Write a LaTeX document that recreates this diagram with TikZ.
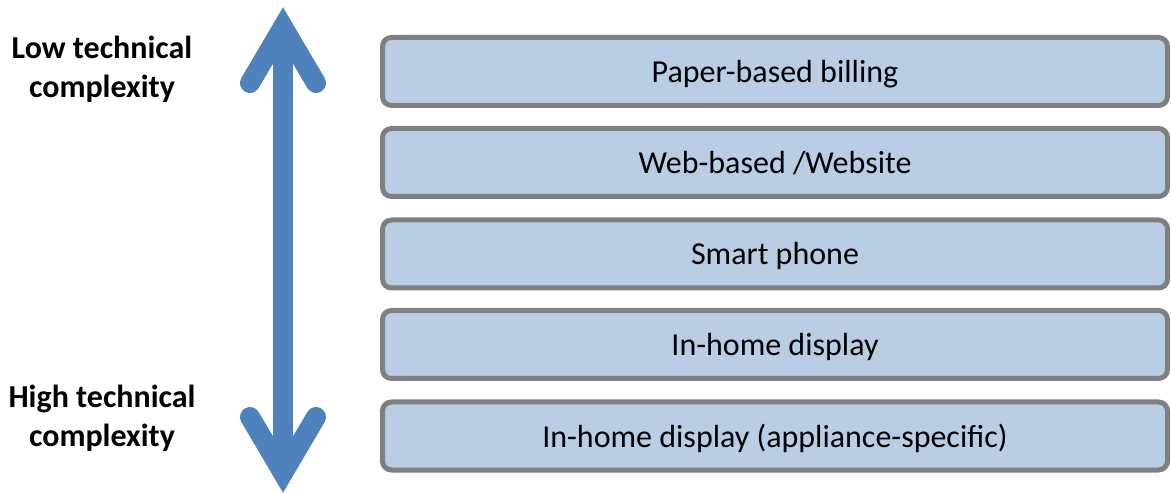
\documentclass[tikz,border=0pt]{standalone}
\usepackage{fontspec}
\setmainfont{Carlito}
\usetikzlibrary{calc}
\definecolor{arrowblue}{HTML}{4F81BD}
\definecolor{boxfill}{HTML}{B9CDE5}
\definecolor{boxline}{HTML}{7F7F7F}
\begin{document}
\begin{tikzpicture}[x=1pt,y=-1pt,
  levelbox/.style={draw=boxline, line width=5pt, fill=boxfill, rounded corners=9pt,
    minimum width=785pt, minimum height=68pt, inner sep=0pt,
    text height=29pt, text depth=7pt,
    font=\fontsize{32}{36}\selectfont},
  sidelabel/.style={align=center, font=\fontsize{32}{39}\selectfont\bfseries},
  bigarrow/.style={draw=arrowblue, line width=20pt, line join=miter, line cap=round}]
\useasboundingbox (0,0) rectangle (1171,494);
\node[levelbox] (b1) at (775,71.5) {Paper-based billing};
\node[levelbox] (b2) at (775,162.5) {Web-based /Website};
\node[levelbox] (b3) at (775,254) {Smart phone};
\node[levelbox] (b4) at (775,344.5) {In-home display};
\node[levelbox] (b5) at (775,436) {In-home display (appliance-specific)};
\node[sidelabel] (low) at (102,69) {Low technical\\complexity};
\node[sidelabel] (high) at (102,418) {High technical\\complexity};
\coordinate (atop) at (283,27);
\coordinate (abot) at (283,473);
\draw[bigarrow, line cap=butt] (atop) -- (abot);
\draw[bigarrow] ($(atop)+(-33,56)$) -- (atop) -- ($(atop)+(33,56)$);
\draw[bigarrow] ($(abot)+(-33,-56)$) -- (abot) -- ($(abot)+(33,-56)$);
\end{tikzpicture}
\end{document}
